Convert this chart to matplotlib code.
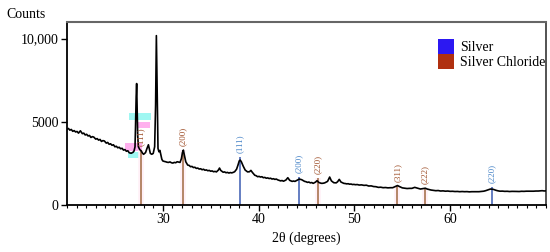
import matplotlib
matplotlib.use('Agg')
import matplotlib.pyplot as plt
from matplotlib.patches import Patch, Rectangle
from matplotlib.ticker import MultipleLocator

plt.rcParams['font.family'] = ['Liberation Serif', 'DejaVu Serif']
plt.rcParams['font.size'] = 10

# XRD pattern
two_theta = [20.0, 20.15, 20.3, 20.45, 20.6, 20.75, 20.9, 21.05, 21.2, 21.4, 21.6, 21.75, 21.9,
             22.05, 22.2, 22.35, 22.5, 22.65, 22.8, 23.0, 23.15, 23.3, 23.45, 23.6, 23.75, 23.9,
             24.1, 24.25, 24.4, 24.55, 24.7, 24.85, 25.0, 25.15, 25.3, 25.45, 25.6, 25.75, 25.9,
             26.05, 26.2, 26.35, 26.5, 26.7, 26.9, 27.0, 27.1,
             27.15, 27.22, 27.27, 27.32, 27.38, 27.45, 27.6, 27.75, 27.9, 28.0, 28.2, 28.35, 28.5,
             28.6, 28.7, 28.85, 29.0, 29.15, 29.25, 29.33, 29.4, 29.5, 29.6, 29.7, 29.8, 29.9,
             30.0, 30.15, 30.3, 30.45, 30.6, 30.75, 30.9, 31.05, 31.2, 31.35, 31.5, 31.65, 31.8,
             31.95, 32.05, 32.15, 32.25, 32.4, 32.6, 32.75, 32.9, 33.05, 33.2, 33.35, 33.5, 33.65,
             33.8, 33.95, 34.1, 34.25, 34.4, 34.55, 34.7, 34.85, 35.0, 35.15, 35.3, 35.45, 35.6,
             35.8, 35.92, 36.05, 36.3, 36.45, 36.6, 36.75, 36.9, 37.05, 37.2, 37.35, 37.5, 37.7,
             37.85, 37.98, 38.08, 38.2, 38.4, 38.6, 38.85, 39.05, 39.2, 39.35, 39.6, 39.75, 39.9,
             40.05, 40.2, 40.35, 40.5, 40.65, 40.8, 40.95, 41.1, 41.25, 41.4, 41.55, 41.7, 41.85,
             42.0, 42.15, 42.3, 42.45, 42.6, 42.85, 43.05, 43.25, 43.5, 43.65, 43.8, 44.0, 44.25,
             44.5, 44.8, 44.95, 45.1, 45.25, 45.4, 45.55, 45.7, 45.95, 46.1, 46.3, 46.45, 46.6,
             46.75, 46.9, 47.2, 47.42, 47.6, 47.85, 48.1, 48.25, 48.42, 48.6, 48.9, 49.05, 49.2,
             49.35, 49.5, 49.65, 49.8, 49.95, 50.1, 50.3, 50.5, 50.75, 51.0, 51.25, 51.5, 51.75,
             52.0, 52.25, 52.5, 52.75, 53.0, 53.25, 53.5, 53.75, 54.0, 54.3, 54.5, 54.7, 55.0,
             55.25, 55.5, 55.75, 56.0, 56.3, 56.6, 56.9, 57.2, 57.4, 57.6, 57.8, 58.0, 58.25,
             58.5, 58.75, 59.0, 59.25, 59.5, 59.75, 60.0, 60.25, 60.5, 60.75, 61.0, 61.25, 61.5,
             61.75, 62.0, 62.25, 62.5, 62.75, 63.0, 63.25, 63.5, 63.7, 63.9, 64.2, 64.5, 64.8,
             65.0, 65.2, 65.45, 65.7, 65.95, 66.2, 66.45, 66.7, 66.95, 67.2, 67.45, 67.7, 67.95,
             68.2, 68.45, 68.7, 68.95, 69.2, 69.4, 69.6, 69.8, 70.0]
counts = [4560, 4600, 4500, 4540, 4430, 4470, 4390, 4420, 4320, 4460, 4290, 4320, 4210,
          4250, 4150, 4180, 4060, 4110, 4080, 3960, 3990, 3900, 3940, 3820, 3870, 3850,
          3720, 3760, 3650, 3680, 3590, 3620, 3500, 3530, 3440, 3470, 3380, 3410, 3300,
          3330, 3230, 3260, 3140, 3110, 3170, 3250, 3500,
          4600, 6500, 7300, 6000, 4200, 3500, 3330, 3250, 3100, 3050, 3150, 3400, 3620,
          3350, 3100, 3050, 3100, 3500, 6000, 10180, 7500, 3400, 3200, 3280, 3000, 2750,
          2650, 2620, 2600, 2570, 2560, 2590, 2540, 2520, 2560, 2540, 2600, 2580, 2560,
          2800, 3150, 3300, 3000, 2600, 2400, 2380, 2300, 2320, 2250, 2270, 2200, 2220,
          2160, 2180, 2120, 2150, 2090, 2110, 2060, 2080, 2030, 2050, 2000, 2020, 1990,
          2100, 2220, 2080, 1970, 1990, 1940, 1960, 1920, 1950, 1930, 1960, 2000, 2150,
          2400, 2650, 2700, 2600, 2330, 2100, 1990, 2000, 2080, 1960, 1790, 1760, 1700,
          1720, 1680, 1700, 1640, 1660, 1610, 1630, 1590, 1610, 1560, 1580, 1540, 1560,
          1510, 1480, 1450, 1470, 1430, 1500, 1640, 1480, 1420, 1440, 1420, 1480, 1560,
          1520, 1420, 1400, 1360, 1380, 1330, 1350, 1300, 1380, 1460, 1350, 1320, 1300,
          1310, 1330, 1420, 1680, 1450, 1340, 1330, 1400, 1540, 1380, 1300, 1290, 1270,
          1280, 1250, 1260, 1230, 1240, 1220, 1230, 1200, 1210, 1180, 1190, 1140, 1150,
          1110, 1100, 1060, 1070, 1040, 1050, 1030, 1040, 1040, 1120, 1170, 1110, 1030,
          1010, 990, 1000, 1000, 1060, 1010, 960, 990, 1010, 960, 930, 900, 880,
          860, 870, 840, 850, 830, 840, 820, 825, 810, 815, 800, 810, 800,
          805, 790, 800, 800, 805, 800, 815, 830, 860, 900, 960, 940, 880,
          850, 830, 835, 820, 825, 810, 820, 820, 815, 810, 825, 820, 830,
          830, 825, 830, 840, 840, 850, 860, 845, 850]

# reference lines
ag_pos = [38.05, 44.2, 64.35]
ag_height = [2870, 1700, 1080]
ag_hkl = ['(111)', '(200)', '(220)']
agcl_pos = [27.7, 32.1, 46.15, 54.5, 57.4]
agcl_height = [3300, 3290, 1620, 1140, 1020]
agcl_hkl = ['(111)', '(200)', '(220)', '(311)', '(222)']

ag_line = '#4a68b8'
ag_text = '#4a86c8'
agcl_line = '#a87450'
agcl_text = '#a0522d'

fig = plt.figure(figsize=(5.5, 2.52), dpi=100)
ax = fig.add_axes([0.1218, 0.1865, 0.8709, 0.7262])

# selection boxes left over in the original screenshot
boxes = [(26.46, 5090, 2.29, 440, '#9ff7f2'),
         (27.26, 4650, 1.39, 340, '#ffb0ee'),
         (26.04, 3250, 1.74, 460, '#ffb0ee'),
         (26.35, 2800, 1.25, 390, '#9ff7f2')]
for x0, y0, w, h, c in boxes:
    ax.add_patch(Rectangle((x0, y0), w, h, color=c, lw=0, zorder=1))

for p, h in zip(agcl_pos, agcl_height):
    ax.vlines(p, 0, h, color='#fff0f7', lw=4, zorder=1)
ax.vlines(agcl_pos, 0, agcl_height, color=agcl_line, lw=1.2, zorder=2)
ax.vlines(ag_pos, 0, ag_height, color=ag_line, lw=1.2, zorder=2)

ax.plot(two_theta, counts, color='black', lw=1.2, zorder=3)

for p, h, t in zip(ag_pos, ag_height, ag_hkl):
    ax.annotate(t, (p, h), xytext=(0, 3), textcoords='offset points', rotation=90,
                ha='center', va='bottom', fontsize=6.5, color=ag_text)
for p, h, t in zip(agcl_pos, agcl_height, agcl_hkl):
    ax.annotate(t, (p, h), xytext=(0, 3), textcoords='offset points', rotation=90,
                ha='center', va='bottom', fontsize=6.5, color=agcl_text)

ax.set_xlim(20, 70)
ax.set_ylim(0, 11000)
ax.set_xticks([30, 40, 50, 60])
ax.xaxis.set_minor_locator(MultipleLocator(1))
ax.set_yticks([0, 5000, 10000])
ax.set_yticklabels(['0', '5000', '10,000'])
ax.tick_params(which='major', direction='out', length=4, width=1, labelsize=10, pad=2)
ax.tick_params(which='minor', direction='out', length=2.5, width=0.8)

for s in ['left', 'bottom']:
    ax.spines[s].set_linewidth(1.3)
ax.spines['top'].set_color('#666666')
ax.spines['top'].set_linewidth(1.5)
ax.spines['right'].set_color('#444444')
ax.spines['right'].set_linewidth(1.3)

ax.set_xlabel('2θ (degrees)', fontsize=10, labelpad=4)
fig.text(0.011, 0.944, 'Counts', fontsize=10, va='center', ha='left')

handles = [Patch(facecolor='#2c18f2', edgecolor='none', label='Silver'),
           Patch(facecolor='#b03010', edgecolor='none', label='Silver Chloride')]
ax.legend(handles=handles, loc='upper left', bbox_to_anchor=(0.7745, 0.905),
          frameon=False, fontsize=10, handlelength=1.15, handleheight=1.25,
          handletextpad=0.45, labelspacing=0.0, borderpad=0, borderaxespad=0)

plt.savefig('out.png', dpi=100)
